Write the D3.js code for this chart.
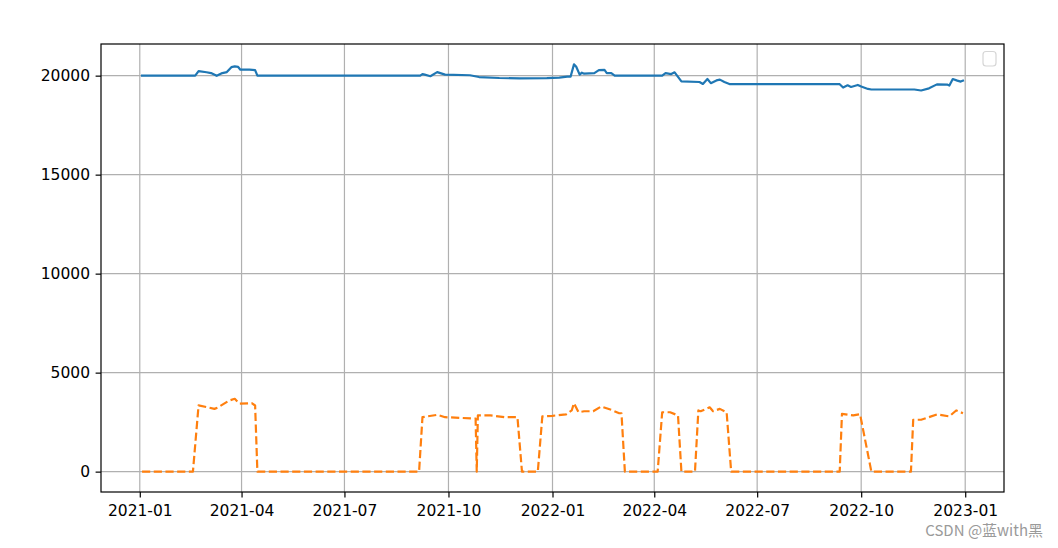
<!DOCTYPE html>
<html>
<head>
<meta charset="utf-8">
<script src="https://cdn.jsdelivr.net/npm/d3@7"></script>
<style>
  html, body { margin: 0; padding: 0; background: #fff; }
  svg { display: block; }
</style>
</head>
<body>
<svg id="chart" width="1058" height="548"></svg>
<script>
// ---- data ----
const blueDates = ["2021-01-03","2021-02-19","2021-02-22","2021-03-01","2021-03-05","2021-03-10","2021-03-15","2021-03-19","2021-03-23","2021-03-26","2021-03-29","2021-03-31","2021-04-08","2021-04-13","2021-04-15","2021-09-06","2021-09-08","2021-09-10","2021-09-15","2021-09-21","2021-09-28","2021-10-20","2021-10-28","2021-11-15","2021-12-03","2021-12-27","2022-01-07","2022-01-14","2022-01-17","2022-01-20","2022-01-22","2022-01-25","2022-01-27","2022-01-29","2022-02-07","2022-02-11","2022-02-16","2022-02-18","2022-02-22","2022-02-25","2022-04-08","2022-04-11","2022-04-16","2022-04-19","2022-04-25","2022-05-11","2022-05-14","2022-05-18","2022-05-21","2022-05-26","2022-05-29","2022-06-02","2022-06-07","2022-09-12","2022-09-15","2022-09-19","2022-09-22","2022-09-28","2022-10-01","2022-10-07","2022-10-10","2022-11-17","2022-11-23","2022-11-30","2022-12-07","2022-12-16","2022-12-18","2022-12-21","2022-12-25","2022-12-28","2022-12-30"];
const blueValues = [20000,20000,20230,20170,20130,19990,20130,20180,20430,20470,20440,20300,20300,20280,20000,20000,20080,20050,19970,20180,20050,20020,19930,19880,19860,19870,19900,19950,19950,20570,20450,20050,20150,20100,20130,20280,20290,20130,20130,20000,20000,20130,20080,20170,19710,19680,19580,19830,19620,19760,19800,19680,19570,19570,19400,19510,19430,19530,19450,19330,19300,19300,19250,19360,19560,19550,19500,19830,19750,19700,19750];

const orangeDates = ["2021-01-03","2021-02-17","2021-02-22","2021-03-08","2021-03-11","2021-03-21","2021-03-26","2021-03-30","2021-04-10","2021-04-13","2021-04-15","2021-09-05","2021-09-08","2021-09-21","2021-09-28","2021-10-25","2021-10-26","2021-10-27","2021-11-07","2021-11-20","2021-12-01","2021-12-05","2021-12-19","2021-12-23","2022-01-01","2022-01-13","2022-01-18","2022-01-20","2022-01-24","2022-01-29","2022-02-06","2022-02-13","2022-02-22","2022-03-01","2022-03-03","2022-03-06","2022-04-04","2022-04-08","2022-04-15","2022-04-22","2022-04-25","2022-05-07","2022-05-10","2022-05-12","2022-05-20","2022-05-23","2022-05-29","2022-06-04","2022-06-08","2022-09-12","2022-09-14","2022-09-24","2022-09-29","2022-09-30","2022-10-10","2022-11-14","2022-11-16","2022-11-23","2022-12-07","2022-12-18","2022-12-24","2022-12-30"];
const orangeValues = [0,0,3350,3170,3240,3590,3680,3430,3460,3340,0,0,2750,2870,2750,2680,0,2840,2840,2750,2750,0,0,2790,2820,2890,3090,3460,3000,3050,3050,3290,3120,2950,2950,0,0,3000,3000,2840,0,0,3090,3050,3250,3050,3170,3000,0,0,2920,2840,2890,2900,0,0,2620,2620,2890,2790,3090,2950];

const yTicks = [0, 5000, 10000, 15000, 20000];
const xTickFormat = "%Y-%m";

// ---- layout ----
const svg = d3.select("#chart");
const mLeft = 101, mRight = 1004, mTop = 44, mBottom = 492;
const parse = d3.utcParse("%Y-%m-%d");
const blue = blueDates.map((d, i) => ({ date: parse(d), value: blueValues[i] }));
const orange = orangeDates.map((d, i) => ({ date: parse(d), value: orangeValues[i] }));
const all = blue.concat(orange);

const xExt = d3.extent(all, d => d.date);
const xSpan = xExt[1] - xExt[0];
const x = d3.scaleUtc()
  .domain([new Date(+xExt[0] - 0.05 * xSpan), new Date(+xExt[1] + 0.05 * xSpan)])
  .range([mLeft, mRight]);

const yExt = d3.extent(all, d => d.value);
const ySpan = yExt[1] - yExt[0];
const y = d3.scaleLinear()
  .domain([yExt[0] - 0.05 * ySpan, yExt[1] + 0.05 * ySpan])
  .range([mBottom, mTop]);

const xTicks = d3.utcMonth.every(3).range(d3.utcMonth.ceil(x.domain()[0]), x.domain()[1]);

const font = "DejaVu Sans, sans-serif";
const fs = 15.5;

// grid
const grid = svg.append("g");
grid.selectAll("line.gx").data(xTicks).enter().append("line")
  .attr("x1", d => x(d)).attr("x2", d => x(d))
  .attr("y1", mTop).attr("y2", mBottom)
  .attr("stroke", "#b0b0b0").attr("stroke-width", 1.2);
grid.selectAll("line.gy").data(yTicks).enter().append("line")
  .attr("x1", mLeft).attr("x2", mRight)
  .attr("y1", d => y(d)).attr("y2", d => y(d))
  .attr("stroke", "#b0b0b0").attr("stroke-width", 1.2);

// lines
const line = d3.line().x(d => x(d.date)).y(d => y(d.value));
svg.append("path").datum(blue).attr("d", line)
  .attr("fill", "none").attr("stroke", "#1f77b4").attr("stroke-width", 2.2)
  .attr("stroke-linejoin", "round").attr("stroke-linecap", "square");
svg.append("path").datum(orange).attr("d", line)
  .attr("fill", "none").attr("stroke", "#ff7f0e").attr("stroke-width", 2.2)
  .attr("stroke-dasharray", "8.2,3.5").attr("stroke-linejoin", "round");

// axes
const xAxis = d3.axisBottom(x).tickValues(xTicks).tickFormat(d3.utcFormat(xTickFormat))
  .tickSize(5.4).tickPadding(8).tickSizeOuter(0);
const gx = svg.append("g").attr("transform", `translate(0,${mBottom})`).call(xAxis);
const yAxis = d3.axisLeft(y).tickValues(yTicks).tickFormat(d => String(d))
  .tickSize(5.4).tickPadding(5.6).tickSizeOuter(0);
const gy = svg.append("g").attr("transform", `translate(${mLeft},0)`).call(yAxis);
[gx, gy].forEach(g => {
  g.select(".domain").remove();
  g.selectAll(".tick line").attr("stroke", "#000").attr("stroke-width", 1.2);
  g.selectAll(".tick text").attr("fill", "#000").style("font-family", font).style("font-size", fs + "px");
});

// frame
svg.append("rect").attr("x", mLeft).attr("y", mTop)
  .attr("width", mRight - mLeft).attr("height", mBottom - mTop)
  .attr("fill", "none").attr("stroke", "#000").attr("stroke-width", 1.2);

// empty legend box
svg.append("rect").attr("x", 983).attr("y", 51.5).attr("width", 13).attr("height", 14.5)
  .attr("rx", 3).attr("fill", "#fff").attr("fill-opacity", 0.8)
  .attr("stroke", "#d6d6d6").attr("stroke-width", 1.2);

// watermark
svg.append("text").attr("x", 1043).attr("y", 536).attr("text-anchor", "end")
  .style("font-family", "'Noto Sans CJK SC', 'Noto Sans', sans-serif").style("font-size", "15px")
  .attr("fill", "#9a9a9a").text("CSDN @蓝with黑");
</script>
</body>
</html>
